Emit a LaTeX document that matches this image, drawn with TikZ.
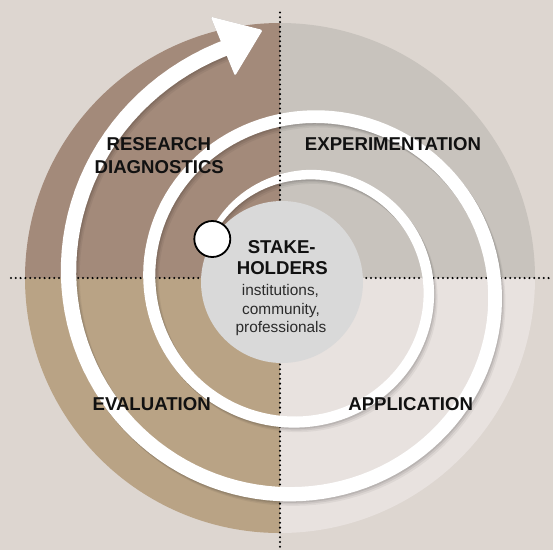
\documentclass[tikz,border=0pt]{standalone}
\usepackage{fontspec}
\setmainfont{Liberation Sans}
\definecolor{bg}{HTML}{DDD6D0}
\definecolor{qtl}{HTML}{A38A7A}
\definecolor{qtr}{HTML}{C8C3BD}
\definecolor{qbl}{HTML}{B9A385}
\definecolor{qbr}{HTML}{E8E2DF}
\definecolor{core}{HTML}{D9D9D9}
\definecolor{ink}{HTML}{111111}
\definecolor{ink2}{HTML}{2B2B2B}
\begin{document}
\begin{tikzpicture}[x=1pt,y=-1pt,
  declare function={sr(\q)=110.8+10.9*\q+0.889*\q*\q; sw(\q)=ifthenelse(\q<0,9.5+7*\q,9.5+0.8*\q);},
  dotline/.style={line width=2.3pt,dash pattern=on 0pt off 4.8pt,line cap=round,black},
  quadlabel/.style={font=\bfseries\fontsize{18.6}{20}\selectfont,text=ink,anchor=base,inner sep=0pt},
  subtext/.style={font=\fontsize{15.4}{18}\selectfont,text=ink2,anchor=base,inner sep=0pt}]
\useasboundingbox (0,0) rectangle (553,550);
\fill[bg] (0,0) rectangle (553,550);
% quadrants
\begin{scope}
\clip (280,278) circle[radius=255pt];
\fill[qtl] (0,0) rectangle (280,278);
\fill[qtr] (280,0) rectangle (553,278);
\fill[qbl] (0,278) rectangle (280,550);
\fill[qbr] (280,278) rectangle (553,550);
\end{scope}
% dotted axes
\coordinate (hl) at (11,278);
\coordinate (hr) at (553,278);
\coordinate (vt) at (280,12.5);
\coordinate (vc) at (280,278);
\coordinate (vb) at (280,550);
\draw[dotline] (hl) -- (hr);
\draw[dotline] (vc) -- (vb);
% arrow head corners
\coordinate (ha) at (210.7,16.7);
\coordinate (ht) at (262.7,30);
\coordinate (hb) at (235,76);
% spiral with soft shadow
\foreach \sx/\sy/\col/\op in {3.5/4.5/black/0.05, 2.2/3/black/0.07, 1/1.5/black/0.09, 0/0/white/1}{
  \fill[\col,opacity=\op,shift={(\sx,\sy)}]
    plot[domain=-0.7:7.82,samples=260,variable=\q]
      ({303.8+1.018*(sr(\q)+sw(\q)/2)*sin(90*\q)},{285.6-(sr(\q)+sw(\q)/2)*cos(90*\q)})
    -- plot[domain=7.82:-0.7,samples=260,variable=\q]
      ({303.8+1.018*(sr(\q)-sw(\q)/2)*sin(90*\q)},{285.6-(sr(\q)-sw(\q)/2)*cos(90*\q)})
    -- cycle;
  \fill[\col,opacity=\op,shift={(\sx,\sy)},rounded corners=1.5pt] (ha) -- (ht) -- (hb) -- cycle;
}
\draw[dotline] (vt) -- (vc);
% core
\node[circle,fill=core,minimum size=162pt,inner sep=0pt] (corec) at (282,282) {};
\node[circle,draw=black,line width=1.8pt,fill=white,minimum size=36pt,inner sep=0pt] (start) at (212.3,239) {};
% labels
\node[quadlabel] (rd1) at (158.8,150) {RESEARCH};
\node[quadlabel] (rd2) at (159.3,173.3) {DIAGNOSTICS};
\node[quadlabel] (exp) at (393,150.7) {EXPERIMENTATION};
\node[quadlabel] (eva) at (151.7,410) {EVALUATION};
\node[quadlabel] (app) at (410.7,410) {APPLICATION};
\node[quadlabel] (sh1) at (281.7,253.3) {STAKE-};
\node[quadlabel] (sh2) at (282.3,274.3) {HOLDERS};
\node[subtext] (s1) at (280.5,295.5) {institutions,};
\node[subtext] (s2) at (281,314) {community,};
\node[subtext] (s3) at (281,332.7) {professionals};
\end{tikzpicture}
\end{document}
